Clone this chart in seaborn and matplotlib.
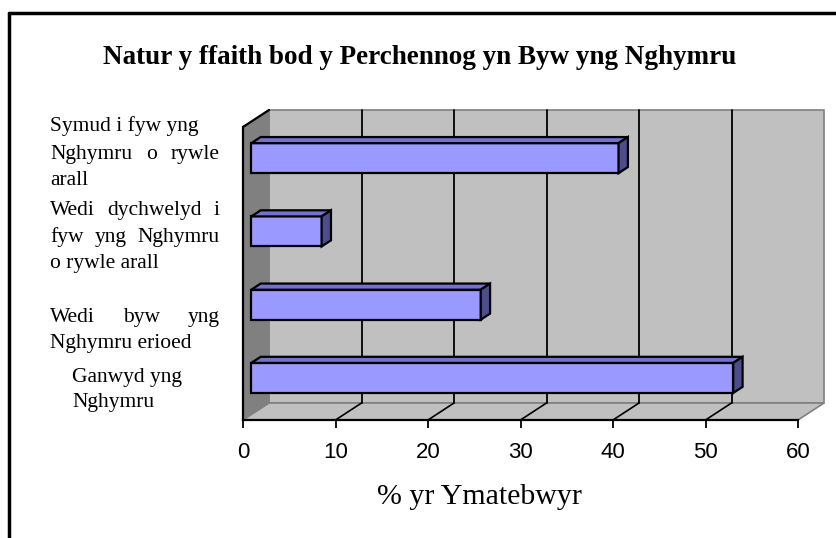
import matplotlib
matplotlib.use("Agg")
import matplotlib.pyplot as plt
import matplotlib.transforms as mtransforms
from matplotlib.patches import Polygon
import pandas as pd
import seaborn as sns

# ---- data ----
categories = [
    "Symud i fyw yng Nghymru o rywle arall",
    "Wedi dychwelyd i fyw yng Nghymru o rywle arall",
    "Wedi byw yng Nghymru erioed",
    "Ganwyd yng Nghymru",
]
values = [39.7, 7.6, 24.8, 52.1]
xticks = [0, 10, 20, 30, 40, 50, 60]

# label lines as drawn in the chart (True = justified line)
label_lines = [
    [("Symud i fyw yng", False), ("Nghymru o rywle", True), ("arall", False)],
    [("Wedi dychwelyd i", True), ("fyw yng Nghymru", True), ("o rywle arall", False)],
    [("Wedi byw yng", True), ("Nghymru erioed", False)],
    [("Ganwyd yng", False), ("Nghymru", False)],
]
label_left = [50, 50, 50, 72]
label_baselines = [[131, 159, 185], [215, 242, 268], [322, 348], [382, 407]]

title = "Natur y ffaith bod y Perchennog yn Byw yng Nghymru"
xlabel = "% yr Ymatebwyr"

# ---- layout ----
W, H = 836, 538
D = (26, 17)          # depth of the 3d box, pixels
BAR_D0, BAR_D1 = 0.32, 0.68

sns.set_theme(style="white")
plt.rcParams["font.family"] = ["Liberation Sans", "DejaVu Sans"]

fig = plt.figure(figsize=(W / 100, H / 100), dpi=100)
fig.patch.set_facecolor("white")


def fx(px):
    return px / W


def fy(py):
    return 1 - py / H


ax = fig.add_axes([fx(243), fy(420), (798 - 243) / W, (420 - 127) / H])

df = pd.DataFrame({"cat": categories, "val": values})
sns.barplot(data=df, x="val", y="cat", orient="h", color="#9999FF",
            saturation=1, width=0.41, edgecolor="black", linewidth=1.6,
            ax=ax, zorder=5)
bars = list(ax.patches)

ax.set_xlim(0, 60)
ax.set_ylim(3.5, -0.5)
ax.set_facecolor("none")
ax.set_xlabel("")
ax.set_ylabel("")
ax.set_yticks([])
ax.set_xticks(xticks)
ax.tick_params(axis="x", length=6, width=1.3, color="black", pad=10,
               labelsize=16, labelcolor="black", bottom=True)
for s in ["top", "right"]:
    ax.spines[s].set_visible(False)
for s in ["left", "bottom"]:
    ax.spines[s].set_color("black")
    ax.spines[s].set_linewidth(1.6)
    ax.spines[s].set_zorder(3)


def P(x, y, d=0.0):
    px, py = ax.transData.transform((x, y))
    return (px + d * D[0], py + d * D[1])


def poly(pts, fc, ec, lw=1.0, z=1):
    ax.add_patch(Polygon(pts, closed=True, facecolor=fc, edgecolor=ec, lw=lw,
                         transform=mtransforms.IdentityTransform(),
                         clip_on=False, zorder=z))


def seg(a, b, color="black", lw=1.2, z=1):
    ax.add_line(plt.Line2D([a[0], b[0]], [a[1], b[1]], color=color, lw=lw,
                           transform=mtransforms.IdentityTransform(),
                           clip_on=False, zorder=z))


ymin, ymax = 3.5, -0.5
xmax = xticks[-1]

# walls and floor
poly([P(0, ymin, 1), P(xmax, ymin, 1), P(xmax, ymax, 1), P(0, ymax, 1)],
     "#C0C0C0", "#808080", 1.2, 0.5)
poly([P(0, ymin, 0), P(0, ymax, 0), P(0, ymax, 1), P(0, ymin, 1)],
     "#808080", "#808080", 1.0, 0.6)
poly([P(0, ymin, 0), P(xmax, ymin, 0), P(xmax, ymin, 1), P(0, ymin, 1)],
     "#C0C0C0", "#808080", 1.2, 0.6)
for t in xticks[1:-1]:
    seg(P(t, ymin, 1), P(t, ymax, 1), "black", 1.3, 0.8)
    seg(P(t, ymin, 0), P(t, ymin, 1), "black", 1.2, 0.8)
seg(P(0, ymax, 0), P(0, ymax, 1), "black", 1.6, 0.9)

# bar faces
shift = mtransforms.Affine2D().translate(BAR_D0 * D[0], BAR_D0 * D[1])
for b in bars:
    b.set_transform(ax.transData + shift)
    x0, x1 = b.get_x(), b.get_x() + b.get_width()
    yt, yb = b.get_y(), b.get_y() + b.get_height()
    poly([P(x0, yt, BAR_D0), P(x1, yt, BAR_D0), P(x1, yt, BAR_D1), P(x0, yt, BAR_D1)],
         "#7373CC", "black", 1.6, 6)
    poly([P(x1, yt, BAR_D0), P(x1, yb, BAR_D0), P(x1, yb, BAR_D1), P(x1, yt, BAR_D1)],
         "#4D4D8C", "black", 1.6, 6)

# category labels, justified like the original
serif = "Liberation Serif"
renderer = fig.canvas.get_renderer()
right_edge = 220
for lines, left, bases in zip(label_lines, label_left, label_baselines):
    for (txt, just), base in zip(lines, bases):
        if not just:
            fig.text(fx(left), fy(base), txt, ha="left", va="baseline",
                     family=serif, fontsize=15.5, color="black")
            continue
        words = txt.split()
        objs = [fig.text(0, fy(base), w, ha="left", va="baseline",
                         family=serif, fontsize=15.5, color="black") for w in words]
        widths = [o.get_window_extent(renderer).width for o in objs]
        gap = (right_edge - left - sum(widths)) / (len(words) - 1)
        pos = left
        for o, wd in zip(objs, widths):
            o.set_x(fx(pos))
            pos += wd + gap

fig.text(fx(420), fy(57), title, ha="center", va="center", family=serif,
         fontsize=19.5, fontweight="bold", color="black")
fig.text(fx(479), fy(497), xlabel, ha="center", va="center", family=serif,
         fontsize=21.5, color="black")

# outer frame
fig.add_artist(plt.Line2D([fx(9), fx(9)], [fy(13), 0], color="black", lw=2.5,
                          transform=fig.transFigure))
fig.add_artist(plt.Line2D([fx(9), 1], [fy(13), fy(13)], color="black", lw=2.5,
                          transform=fig.transFigure))

fig.savefig("out.png", dpi=100)
